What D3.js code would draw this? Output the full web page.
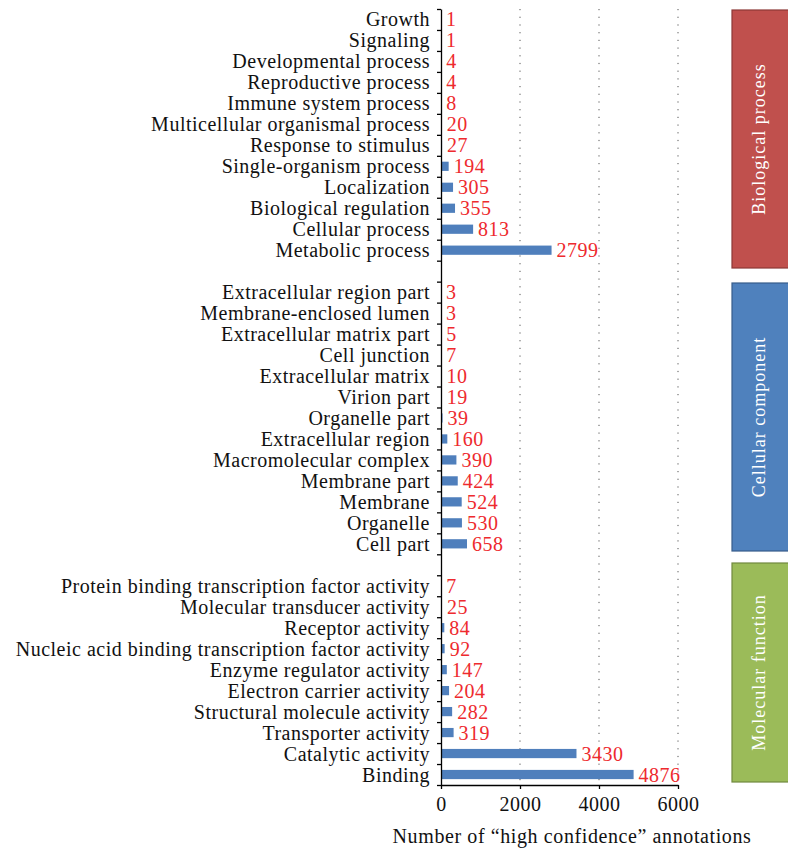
<!DOCTYPE html>
<html>
<head>
<meta charset="utf-8">
<script src="https://cdn.jsdelivr.net/npm/d3@7"></script>
<style>
  body { margin: 0; background: #fff; }
  text { font-family: "Liberation Serif", "DejaVu Serif", serif; }
</style>
</head>
<body>
<script>
'use strict';
const bpNames = ["Growth", "Signaling", "Developmental process", "Reproductive process", "Immune system process",
  "Multicellular organismal process", "Response to stimulus", "Single-organism process", "Localization",
  "Biological regulation", "Cellular process", "Metabolic process"];
const bpValues = [1, 1, 4, 4, 8, 20, 27, 194, 305, 355, 813, 2799];

const ccNames = ["Extracellular region part", "Membrane-enclosed lumen", "Extracellular matrix part", "Cell junction",
  "Extracellular matrix", "Virion part", "Organelle part", "Extracellular region", "Macromolecular complex",
  "Membrane part", "Membrane", "Organelle", "Cell part"];
const ccValues = [3, 3, 5, 7, 10, 19, 39, 160, 390, 424, 524, 530, 658];

const mfNames = ["Protein binding transcription factor activity", "Molecular transducer activity", "Receptor activity",
  "Nucleic acid binding transcription factor activity", "Enzyme regulator activity", "Electron carrier activity",
  "Structural molecule activity", "Transporter activity", "Catalytic activity", "Binding"];
const mfValues = [7, 25, 84, 92, 147, 204, 282, 319, 3430, 4876];

const groupNames = ["Biological process", "Cellular component", "Molecular function"];
const groupColors = ["#c0504d", "#4f81bd", "#9bbb59"];
const groupStrokes = ["#8c3836", "#385d8a", "#71893f"];
const xTicks = [0, 2000, 4000, 6000];
const xTitle = "Number of \u201chigh confidence\u201d annotations";

let rows = [];
[[bpNames, bpValues], [ccNames, ccValues], [mfNames, mfValues]].forEach(([names, vals], g) => {
  if (g > 0) rows.push({ id: "gap" + g, gap: true });
  names.forEach((n, i) => rows.push({ id: n, name: n, value: vals[i], group: g }));
});

const W = 788, H = 848;
const left = 441, plotTop = 9, plotBottom = 785;
const svg = d3.select('body').append('svg').attr('width', W).attr('height', H);

const x = d3.scaleLinear().domain([0, 6000]).range([left, 678]);
const y = d3.scaleBand().domain(rows.map(d => d.id)).range([plotTop, plotBottom])
  .paddingInner(0.56).paddingOuter(0.28);
const yIdx = d3.scaleLinear().domain([0, rows.length]).range([plotTop, plotBottom]);

// dotted grid
svg.append('g').selectAll('line').data(xTicks.slice(1)).enter().append('line')
  .attr('x1', d => x(d)).attr('x2', d => x(d))
  .attr('y1', plotTop).attr('y2', plotBottom)
  .attr('stroke', '#555').attr('stroke-width', 1).attr('stroke-dasharray', '1.2,6.5');

// bars
let data = rows.filter(d => !d.gap);
svg.append('g').selectAll('rect').data(data).enter().append('rect')
  .attr('x', x(0)).attr('y', d => y(d.id))
  .attr('width', d => x(d.value) - x(0)).attr('height', y.bandwidth())
  .attr('fill', '#4f7fbc');

// value labels
svg.append('g').selectAll('text').data(data).enter().append('text')
  .attr('x', d => x(d.value) + 5).attr('y', d => y(d.id) + y.bandwidth() / 2)
  .attr('dy', '0.35em').attr('fill', '#ee2a2e').style('font-size', '20px').style('letter-spacing', '0.5px')
  .text(d => d.value);

// category labels
svg.append('g').selectAll('text').data(data).enter().append('text')
  .attr('x', 430).attr('y', d => y(d.id) + y.bandwidth() / 2)
  .attr('dy', '0.35em').attr('text-anchor', 'end').attr('fill', '#111')
  .style('font-size', '20px').style('letter-spacing', '0.5px')
  .text(d => d.name);

// y axis with boundary ticks
svg.append('g').attr('transform', 'translate(' + left + ',0)')
  .call(d3.axisLeft(yIdx).tickValues(d3.range(rows.length + 1)).tickFormat('').tickSize(4).tickSizeOuter(0))
  .call(g => g.selectAll('line,path').attr('stroke', '#000').attr('stroke-width', 1.3));

// x axis
let xAxis = svg.append('g').attr('transform', 'translate(0,' + plotBottom + ')')
  .call(d3.axisBottom(x).tickValues(xTicks).tickFormat(d3.format('d')).tickSize(4).tickSizeOuter(0));
xAxis.selectAll('line,path').attr('stroke', '#000').attr('stroke-width', 1.3);
xAxis.selectAll('text').style('font-size', '20px').style('letter-spacing', '0.5px')
  .style('font-family', '"Liberation Serif", serif').attr('fill', '#111').attr('dy', '0.95em');

svg.append('text').attr('x', 572).attr('y', 843).attr('text-anchor', 'middle')
  .style('font-size', '20px').style('letter-spacing', '0.6px').attr('fill', '#111').text(xTitle);

// group boxes on the right
const boxSpans = [[10, 268], [283, 551], [563, 782]];
groupNames.forEach((name, g) => {
  let [t, b] = boxSpans[g];
  svg.append('rect').attr('x', 732).attr('y', t).attr('width', 62).attr('height', b - t)
    .attr('fill', groupColors[g]).attr('stroke', groupStrokes[g]).attr('stroke-width', 1.2);
  svg.append('text')
    .attr('transform', 'translate(765,' + ((t + b) / 2) + ') rotate(-90)')
    .attr('text-anchor', 'middle').attr('fill', '#fff')
    .style('font-size', '18px').style('letter-spacing', '1px')
    .text(name);
});
</script>
</body>
</html>
